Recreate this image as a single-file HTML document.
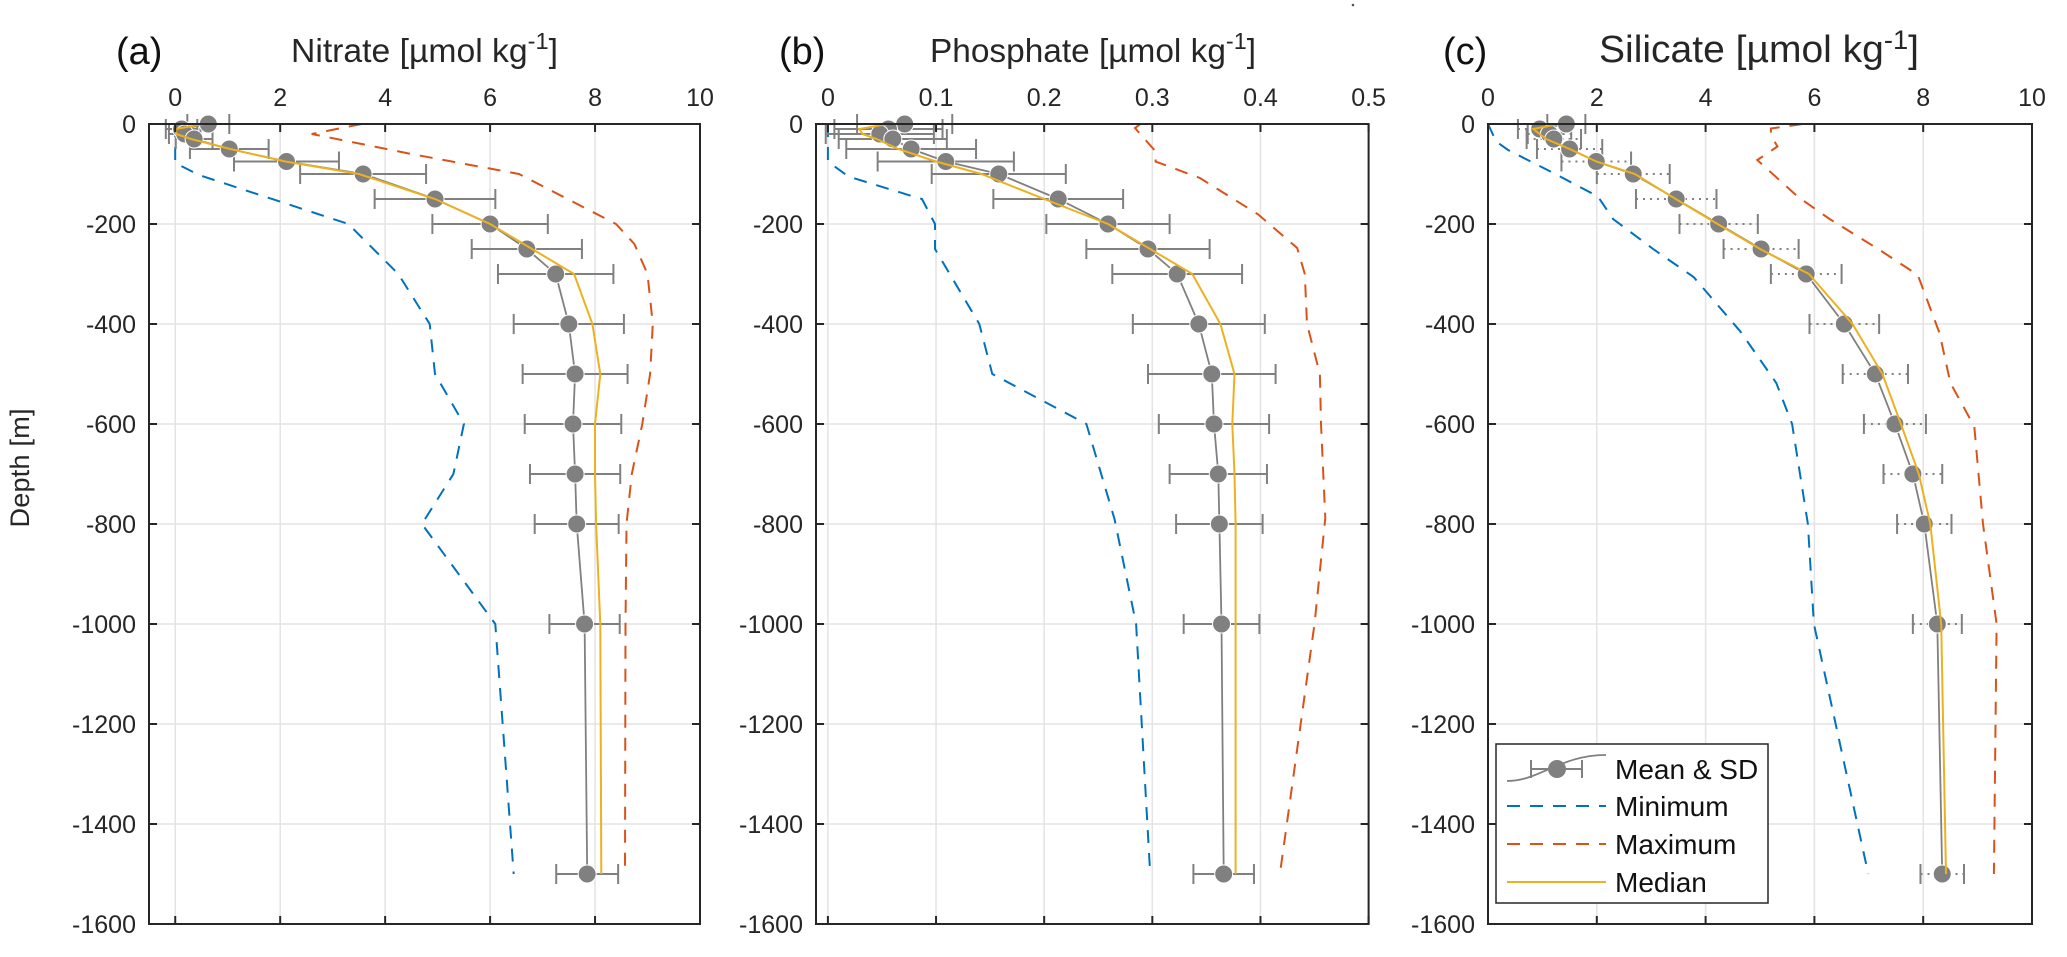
<!DOCTYPE html>
<html><head><meta charset="utf-8"><title>Nutrient depth profiles</title>
<style>
html,body{margin:0;padding:0;background:#fff;}
svg{display:block;font-family:"Liberation Sans",Arial,sans-serif;}
</style></head>
<body>
<svg id="fig" width="2067" height="957" viewBox="0 0 2067 957" xmlns="http://www.w3.org/2000/svg">
<text x="29" y="468" transform="rotate(-90 29 468)" text-anchor="middle" font-size="27" fill="#262626" textLength="119">Depth [m]</text>
<circle cx="1353" cy="5" r="1.3" fill="#555"/>
</svg>
<script>
// ---- shared depth levels (m) ----
const depths = [0,-10,-20,-30,-50,-75,-100,-150,-200,-250,-300,-400,-500,-600,-700,-800,-1000,-1500];
const yTicks = [0,-200,-400,-600,-800,-1000,-1200,-1400,-1600];

// ---- Panel (a) Nitrate ----
const nitrateTicks = [0,2,4,6,8,10];
const nitrateTickLabels = ["0","2","4","6","8","10"];
const nitrateMean = [0.63,0.12,0.18,0.36,1.03,2.12,3.58,4.95,6.0,6.7,7.25,7.5,7.62,7.58,7.62,7.65,7.8,7.85];
const nitrateSD = [0.4,0.3,0.3,0.35,0.75,1.0,1.2,1.15,1.1,1.05,1.1,1.05,1.0,0.92,0.86,0.8,0.67,0.59];
const nitrateMedian = [0.55,0.01,0.02,0.3,1.05,2.1,3.5,4.95,6.0,6.8,7.6,7.95,8.1,8.0,8.0,8.02,8.1,8.12];
const nitrateMinD = [0,-78,-102,-200,-300,-400,-500,-600,-700,-800,-1000,-1500];
const nitrateMin = [0,0,0.45,3.3,4.25,4.85,4.95,5.5,5.3,4.7,6.1,6.45];
const nitrateMaxD = [0,-20,-60,-100,-200,-240,-300,-400,-500,-600,-700,-800,-1000,-1500];
const nitrateMax = [3.55,2.6,4.5,6.55,8.4,8.75,9.0,9.1,9.05,8.9,8.7,8.6,8.58,8.57];

// ---- Panel (b) Phosphate ----
const phosTicks = [0,0.1,0.2,0.3,0.4,0.5];
const phosTickLabels = ["0","0.1","0.2","0.3","0.4","0.5"];
const phosMean = [0.071,0.056,0.048,0.06,0.077,0.109,0.158,0.213,0.259,0.296,0.323,0.343,0.355,0.357,0.361,0.362,0.364,0.366];
const phosSD = [0.044,0.05,0.05,0.05,0.06,0.063,0.062,0.06,0.057,0.057,0.06,0.061,0.059,0.051,0.045,0.04,0.035,0.028];
const phosMedian = [0.056,0.029,0.032,0.045,0.065,0.1,0.142,0.2,0.259,0.298,0.337,0.363,0.376,0.374,0.376,0.377,0.377,0.377];
const phosMinD = [0,-75,-105,-145,-150,-200,-250,-400,-500,-600,-790,-1000,-1500];
const phosMin = [0,0,0.019,0.079,0.087,0.099,0.099,0.14,0.152,0.239,0.265,0.285,0.298];
const phosMaxD = [0,-8,-55,-75,-108,-181,-248,-300,-400,-500,-600,-788,-1000,-1500];
const phosMax = [0.289,0.284,0.303,0.303,0.344,0.398,0.434,0.441,0.443,0.455,0.456,0.46,0.45,0.418];

// ---- Panel (c) Silicate ----
const silTicks = [0,2,4,6,8,10];
const silTickLabels = ["0","2","4","6","8","10"];
const silMean = [1.44,0.95,1.13,1.21,1.5,1.99,2.67,3.46,4.24,5.02,5.85,6.55,7.12,7.48,7.81,8.02,8.26,8.35];
const silSD = [0.35,0.4,0.4,0.5,0.6,0.64,0.67,0.74,0.72,0.69,0.65,0.64,0.6,0.57,0.54,0.5,0.45,0.4];
const silMedian = [1.31,0.83,0.95,1.07,1.5,1.99,2.7,3.45,4.22,5.0,5.9,6.7,7.25,7.59,7.92,8.13,8.33,8.42];
const silMinD = [0,-35,-52,-99,-145,-190,-252,-306,-415,-518,-600,-800,-1000,-1500];
const silMin = [0,0.15,0.37,1.22,2.02,2.3,3.06,3.78,4.64,5.3,5.59,5.88,5.99,6.99];
const silMaxD = [0,-9,-22,-45,-72,-145,-190,-252,-302,-418,-518,-605,-800,-1000,-1500];
const silMax = [5.78,5.2,5.2,5.32,4.95,5.69,6.28,7.2,7.9,8.3,8.5,8.94,9.1,9.35,9.3];

const NS = "http://www.w3.org/2000/svg";
const svg = document.getElementById("fig");
function mk(tag, attrs, parent){
  const e = document.createElementNS(NS, tag);
  for (const k in attrs) e.setAttribute(k, attrs[k]);
  (parent||svg).appendChild(e);
  return e;
}
const GRAY="#808080", BLUE="#0072BD", RED="#D95319", GOLD="#EDB120";
const Y0=124, Y1=924, DMAX=1600;
function yScale(d){ return Y0 + (-d)/DMAX*(Y1-Y0); }

function panel(cfg){
  const g = mk("g",{});
  
  
  const xS = v => cfg.x0 + (v - cfg.vmin)/(cfg.vmax - cfg.vmin)*(cfg.x1 - cfg.x0);
  // grid
  cfg.ticks.forEach(t=>{
    const l = mk("line",{x1:xS(t),x2:xS(t),y1:Y0,y2:Y1,stroke:"#e3e3e3","stroke-width":1.5},g);
    
    
  });
  yTicks.forEach(t=>{
    const l = mk("line",{x1:cfg.x0,x2:cfg.x1,y1:yScale(t),y2:yScale(t),stroke:"#e3e3e3","stroke-width":1.5},g);
    
    
  });
  // min / max / mean / median
  const pts = (vals,ds)=>vals.map((v,i)=>xS(v).toFixed(1)+","+yScale(ds[i]).toFixed(1)).join(" ");
  const mn = mk("polyline",{points:pts(cfg.min,cfg.minD),fill:"none",stroke:BLUE,"stroke-width":2,"stroke-dasharray":"13 10"},g);
  
  
  const mx = mk("polyline",{points:pts(cfg.max,cfg.maxD),fill:"none",stroke:RED,"stroke-width":2,"stroke-dasharray":"13 10"},g);
  
  
  const ml = mk("polyline",{points:pts(cfg.mean,depths),fill:"none",stroke:GRAY,"stroke-width":1.8},g);
  
  
  // error bars + markers
  cfg.mean.forEach((v,i)=>{
    const y=yScale(depths[i]), a=xS(v-cfg.sd[i]), b=xS(v+cfg.sd[i]);
    const eb = mk("g",{},g);
    
    
    mk("line",{x1:a,x2:b,y1:y,y2:y,stroke:GRAY,"stroke-width":2,"stroke-dasharray":cfg.dotted?"2 5":"none"},eb);
    mk("line",{x1:a,x2:a,y1:y-10,y2:y+10,stroke:GRAY,"stroke-width":2},eb);
    mk("line",{x1:b,x2:b,y1:y-10,y2:y+10,stroke:GRAY,"stroke-width":2},eb);
  });
  cfg.mean.forEach((v,i)=>{
    const c = mk("circle",{cx:xS(v),cy:yScale(depths[i]),r:9,fill:GRAY,stroke:"#fff","stroke-width":1},g);
    
    
  });
  const md = mk("polyline",{points:pts(cfg.median,depths),fill:"none",stroke:GOLD,"stroke-width":2},g);
  
  
  // box
  const box = mk("rect",{x:cfg.x0,y:Y0,width:cfg.x1-cfg.x0,height:Y1-Y0,fill:"none",stroke:"#262626","stroke-width":2},g);
  
  
  // ticks + labels
  cfg.ticks.forEach((t,i)=>{
    const x=xS(t);
    mk("line",{x1:x,x2:x,y1:Y0,y2:Y0+8,stroke:"#262626","stroke-width":2},g);
    mk("line",{x1:x,x2:x,y1:Y1,y2:Y1-8,stroke:"#262626","stroke-width":2},g);
    const tl = mk("text",{x:x,y:106,"text-anchor":"middle","font-size":25,fill:"#262626"},g);
    
    
    tl.textContent = cfg.labels[i];
  });
  yTicks.forEach(t=>{
    const y=yScale(t);
    mk("line",{x1:cfg.x0,x2:cfg.x0+8,y1:y,y2:y,stroke:"#262626","stroke-width":2},g);
    mk("line",{x1:cfg.x1,x2:cfg.x1-8,y1:y,y2:y,stroke:"#262626","stroke-width":2},g);
    const tl = mk("text",{x:cfg.x0-13,y:y+9,"text-anchor":"end","font-size":25,fill:"#262626"},g);
    
    
    tl.textContent = String(t);
  });
  // panel letter and title
  const pl = mk("text",{x:cfg.letterX,y:64,"font-size":38,fill:"#111"},g);
  
  
  pl.textContent = cfg.letter;
  const tt = mk("text",{x:cfg.titleX,y:62,"font-size":cfg.titleSize,fill:"#262626"},g);
  
  
  const t1 = mk("tspan",{},tt); t1.textContent = cfg.title+" [µmol kg";
  const t2 = mk("tspan",{dy:-13,"font-size":cfg.titleSize*0.7},tt); t2.textContent="-1";
  const t3 = mk("tspan",{dy:13},tt); t3.textContent="]";
  tt.setAttribute("textLength", cfg.titleW);
  tt.setAttribute("lengthAdjust","spacingAndGlyphs");
}

panel({name:"panel-a-nitrate",x0:149,x1:700,vmin:-0.5,vmax:10,ticks:nitrateTicks,labels:nitrateTickLabels,
  mean:nitrateMean,sd:nitrateSD,median:nitrateMedian,min:nitrateMin,minD:nitrateMinD,max:nitrateMax,maxD:nitrateMaxD,
  letter:"(a)",letterX:116,title:"Nitrate",titleX:291,titleW:267,titleSize:33,dotted:false});
panel({name:"panel-b-phosphate",x0:816,x1:1368.6,vmin:-0.011,vmax:0.5,ticks:phosTicks,labels:phosTickLabels,
  mean:phosMean,sd:phosSD,median:phosMedian,min:phosMin,minD:phosMinD,max:phosMax,maxD:phosMaxD,
  letter:"(b)",letterX:779,title:"Phosphate",titleX:930,titleW:326,titleSize:33,dotted:false});
panel({name:"panel-c-silicate",x0:1488,x1:2032,vmin:0,vmax:10,ticks:silTicks,labels:silTickLabels,
  mean:silMean,sd:silSD,median:silMedian,min:silMin,minD:silMinD,max:silMax,maxD:silMaxD,
  letter:"(c)",letterX:1443,title:"Silicate",titleX:1599,titleW:320,titleSize:38,dotted:true});

// ---- legend ----
const lg = mk("g",{});


mk("rect",{x:1496,y:744,width:272,height:159,fill:"#fff",stroke:"#262626","stroke-width":1.5},lg);
const legendLabels = ["Mean & SD","Minimum","Maximum","Median"];
const rowsY = [769,806,844,882];
legendLabels.forEach((lab,i)=>{
  const y = rowsY[i];
  const e = mk("g",{},lg);
  
  
  if(i===0){
    mk("path",{d:`M1507 ${y+12} C1540 ${y+12},1560 ${y-14},1606 ${y-14}`,fill:"none",stroke:GRAY,"stroke-width":1.8},e);
    mk("line",{x1:1531,x2:1582,y1:y,y2:y,stroke:GRAY,"stroke-width":2},e);
    mk("line",{x1:1531,x2:1531,y1:y-9,y2:y+9,stroke:GRAY,"stroke-width":2},e);
    mk("line",{x1:1582,x2:1582,y1:y-9,y2:y+9,stroke:GRAY,"stroke-width":2},e);
    mk("circle",{cx:1557,cy:y,r:9,fill:GRAY},e);
  } else {
    const col=[null,BLUE,RED,GOLD][i];
    mk("line",{x1:1507,x2:1606,y1:y,y2:y,stroke:col,"stroke-width":2,"stroke-dasharray":i<3?"13 10":"none"},e);
  }
  const t = mk("text",{x:1615,y:y+10,"font-size":28,fill:"#111"},e);
  t.textContent = lab;
});
</script>
</body></html>
